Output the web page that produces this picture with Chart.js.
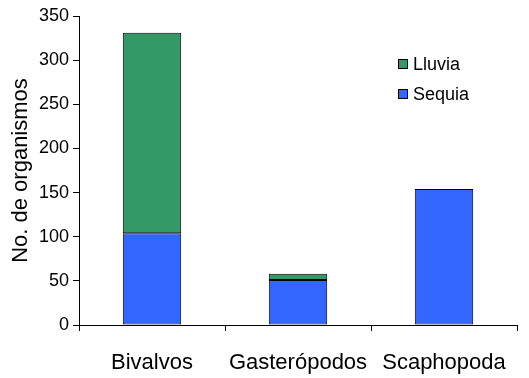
<!DOCTYPE html>
<html>
<head>
<meta charset="utf-8">
<script src="https://cdn.jsdelivr.net/npm/chart.js@4"></script>
<style>
  html, body { margin: 0; padding: 0; background: #fff; }
  #wrap { width: 529px; height: 378px; }
</style>
</head>
<body>
<div id="wrap"><canvas id="chart" width="529" height="378"></canvas></div>
<script>
const categories = ['Bivalvos', 'Gasterópodos', 'Scaphopoda'];
const sequia = [104, 51, 154];
const lluvia = [227, 7, null];
const yTicks = [0, 50, 100, 150, 200, 250, 300, 350];

const FONT = "'Liberation Sans', Arial, sans-serif";

// legend drawn inside the plot area, top right
const innerLegend = {
    id: 'innerLegend',
    afterDraw(chart) {
        const c = chart.ctx;
        const sets = chart.data.datasets.slice().reverse();
        c.save();
        c.font = '18px ' + FONT;
        c.textBaseline = 'middle';
        sets.forEach((ds, i) => {
            const y = 64 + i * 30;
            c.fillStyle = ds.backgroundColor;
            c.fillRect(398, y - 5, 9, 10);
            c.strokeStyle = '#000';
            c.lineWidth = 1;
            c.strokeRect(398.5, y - 4.5, 9, 9);
            c.fillStyle = '#000';
            c.fillText(ds.label, 413, y + 1);
        });
        c.restore();
    }
};

const ctx = document.getElementById('chart').getContext('2d');

const chart = new Chart(ctx, {
    type: 'bar',
    data: {
        labels: categories,
        datasets: [
            {
                label: 'Sequia',
                data: sequia,
                backgroundColor: '#3366FF',
                borderColor: '#000',
                borderWidth: 1,
                borderSkipped: false
            },
            {
                label: 'Lluvia',
                data: lluvia,
                backgroundColor: '#339966',
                borderColor: '#000',
                borderWidth: 1,
                borderSkipped: false
            }
        ]
    },
    options: {
        responsive: false,
        animation: false,
        categoryPercentage: 1,
        barPercentage: 0.4,
        layout: { padding: { top: 16, right: 12, left: 0, bottom: 0 } },
        plugins: {
            legend: { display: false },
            tooltip: { enabled: false }
        },
        scales: {
            x: {
                stacked: true,
                grid: {
                    offset: true,
                    drawOnChartArea: false,
                    tickLength: 6,
                    color: '#000'
                },
                border: { color: '#000', width: 1 },
                ticks: {
                    color: '#000',
                    font: { family: FONT, size: 22 },
                    padding: 19,
                    maxRotation: 0,
                    autoSkip: false
                },
                afterFit(scale) { scale.height = 53; }
            },
            y: {
                stacked: true,
                min: 0,
                max: 350,
                afterBuildTicks(scale) {
                    scale.ticks = yTicks.map(v => ({ value: v }));
                },
                grid: {
                    drawOnChartArea: false,
                    tickLength: 6,
                    color: '#000'
                },
                border: { color: '#000', width: 1 },
                ticks: {
                    color: '#000',
                    font: { family: FONT, size: 18 },
                    padding: 4
                },
                title: {
                    display: true,
                    text: 'No. de organismos',
                    color: '#000',
                    font: { family: FONT, size: 22 },
                    padding: { top: 8, bottom: 0 }
                },
                afterFit(scale) { scale.width = 79; }
            }
        }
    },
    plugins: [innerLegend]
});
</script>
</body>
</html>
